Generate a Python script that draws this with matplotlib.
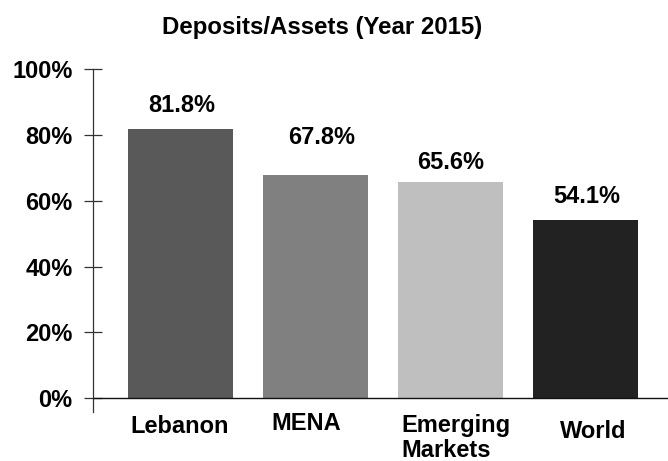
import matplotlib.pyplot as plt

categories = ["Lebanon", "MENA", "Emerging\nMarkets", "World"]
values = [81.8, 67.8, 65.6, 54.1]
bar_colors = ["#595959", "#808080", "#bfbfbf", "#222222"]
yticks = [0, 20, 40, 60, 80, 100]
title = "Deposits/Assets (Year 2015)"

plt.rcParams["font.family"] = ["Liberation Sans", "DejaVu Sans"]
plt.rcParams["font.weight"] = "bold"

fig = plt.figure(figsize=(6.68, 4.61), dpi=100)
ax = fig.add_axes([0.1388, 0.1063, 0.8612, 0.7434])

xs = list(range(len(categories)))
ax.bar(xs, values, width=0.78, color=bar_colors, zorder=2)

ax.set_xlim(-0.65, 3.61)
ax.set_ylim(-4.2, 100)

for side in ("top", "right", "bottom"):
    ax.spines[side].set_visible(False)
ax.spines["left"].set_color("#333333")
ax.spines["left"].set_linewidth(0.9)
ax.axhline(0, color="#111111", linewidth=1.0, xmin=0, xmax=1, zorder=3)

ax.set_yticks(yticks)
ax.set_yticklabels([f"{t}%" for t in yticks], fontsize=17, fontweight="bold")
ax.tick_params(axis="y", direction="inout", length=13, width=0.9,
               color="#333333", pad=8)
ax.set_xticks([])

# value labels (pixel nudges copied from the original layout)
val_nudge = [(1, 24), (6, 38), (0, 20), (1, 24)]
for x, v, (dx, dy) in zip(xs, values, val_nudge):
    ax.annotate(f"{v:.1f}%", (x, v), xytext=(dx, dy), textcoords="offset pixels",
                ha="center", va="center", fontsize=17, fontweight="bold")

# category labels under the axis line
cat_nudge = [(-1, -28), (-9, -25), (5, -40), (8, -33)]
for x, c, (dx, dy) in zip(xs, categories, cat_nudge):
    ax.annotate(c, (x, 0), xytext=(dx, dy), textcoords="offset pixels",
                ha="center", va="center", ma="left", fontsize=17,
                fontweight="bold", linespacing=1.12, annotation_clip=False)

fig.text(0.4828, 0.9414, title, ha="center", va="center",
         fontsize=17.3, fontweight="bold")

fig.savefig("out.png", dpi=100)
